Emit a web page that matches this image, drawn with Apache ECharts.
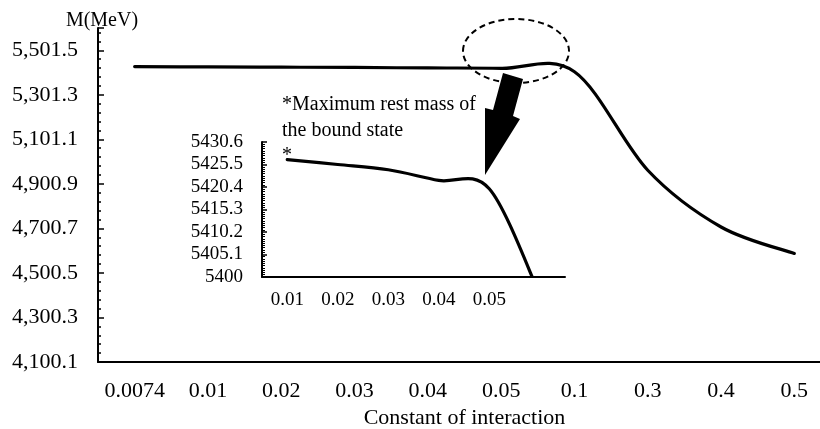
<!DOCTYPE html>
<html><head><meta charset="utf-8">
<script src="https://cdn.jsdelivr.net/npm/echarts@6/dist/echarts.min.js"></script>
<style>html,body{margin:0;padding:0;background:#fff}#c{width:820px;height:429px}</style>
</head><body><div id="c"></div>
<script>
// ---- data ----
const categories = ['0.0074', '0.01', '0.02', '0.03', '0.04', '0.05', '0.1', '0.3', '0.4', '0.5'];
const massValues = [5428, 5426.6, 5425.5, 5424.3, 5421.9, 5420.0, 5405, 4962, 4707, 4588];
const yTicks = [4100.1, 4300.3, 4500.5, 4700.7, 4900.9, 5101.1, 5301.3, 5501.5];
const yMax = 5601.6;
const insetCategories = ['0.01', '0.02', '0.03', '0.04', '0.05', ''];
const insetValues = [5426.6, 5425.5, 5424.3, 5421.9, 5420.0, 5396];
const insetTicks = [5400, 5405.1, 5410.2, 5415.3, 5420.4, 5425.5, 5430.6];
const xAxisName = 'Constant of interaction';
const yAxisName = 'M(MeV)';
const noteLines = ['*Maximum rest mass of', 'the bound state', '*'];

// ---- chart ----
const FONT = '"Liberation Serif", "Times New Roman", serif';
const BLACK = '#000';
const yInterval = +(yTicks[1] - yTicks[0]).toFixed(4);
const insetInterval = +(insetTicks[1] - insetTicks[0]).toFixed(4);
const matchTick = (list, v) => list.find(t => Math.abs(t - v) < 1e-6);

// Spreadsheet-style (Catmull-Rom) smoothing through the points mapped by the axes
function smoothPath(values, api) {
  const pts = values.map((v, i) => api.coord([i, v]));
  let d = 'M' + pts[0][0] + ',' + pts[0][1];
  for (let i = 0; i < pts.length - 1; i++) {
    const p0 = pts[Math.max(i - 1, 0)], p1 = pts[i], p2 = pts[i + 1], p3 = pts[Math.min(i + 2, pts.length - 1)];
    const c1 = [p1[0] + (p2[0] - p0[0]) / 6, p1[1] + (p2[1] - p0[1]) / 6];
    const c2 = [p2[0] - (p3[0] - p1[0]) / 6, p2[1] - (p3[1] - p1[1]) / 6];
    d += ' C' + c1[0] + ',' + c1[1] + ' ' + c2[0] + ',' + c2[1] + ' ' + p2[0] + ',' + p2[1];
  }
  return d;
}
function smoothSeries(values, xIdx, yIdx) {
  return {
    type: 'custom', xAxisIndex: xIdx, yAxisIndex: yIdx, clip: true,
    data: values.map((v, i) => [i, v]), encode: {x: 0, y: 1},
    renderItem: (params, api) => params.dataIndex !== 0 ? null : {
      type: 'path',
      shape: {pathData: smoothPath(values, api)},
      style: {fill: 'none', stroke: BLACK, lineWidth: 3.2, lineJoin: 'round', lineCap: 'round'}
    }
  };
}

const chart = echarts.init(document.getElementById('c'), null, {renderer: 'canvas'});
chart.setOption({
  backgroundColor: '#fff',
  animation: false,
  grid: [
    {left: 98, top: 28, width: 733, height: 334, containLabel: false, outerBoundsMode: 'none'},
    {left: 262, top: 142, width: 303, height: 135, containLabel: false, outerBoundsMode: 'none'}
  ],
  xAxis: [
    {
      gridIndex: 0, type: 'category', data: categories, boundaryGap: true,
      axisLine: {lineStyle: {color: BLACK, width: 2}},
      axisTick: {inside: true, length: 5, lineStyle: {color: BLACK, width: 1.5}},
      axisLabel: {interval: 0, margin: 18, fontSize: 22, color: BLACK, fontFamily: FONT},
      name: xAxisName, nameLocation: 'middle', nameGap: 35,
      nameTextStyle: {fontSize: 22, color: BLACK, fontFamily: FONT},
      splitLine: {show: false}
    },
    {
      gridIndex: 0, type: 'category', data: categories, position: 'bottom',
      axisLine: {show: false}, axisLabel: {show: false}, splitLine: {show: false},
      axisTick: {inside: true, alignWithLabel: true, length: 5, lineStyle: {color: BLACK, width: 1.5}}
    },
    {
      gridIndex: 1, type: 'category', data: insetCategories, boundaryGap: true,
      axisLine: {lineStyle: {color: BLACK, width: 2}},
      axisTick: {inside: true, length: 5, lineStyle: {color: BLACK, width: 1.5}},
      axisLabel: {interval: 0, margin: 14, fontSize: 19, color: BLACK, fontFamily: FONT},
      splitLine: {show: false}
    },
    {
      gridIndex: 1, type: 'category', data: insetCategories, position: 'bottom',
      axisLine: {show: false}, axisLabel: {show: false}, splitLine: {show: false},
      axisTick: {inside: true, alignWithLabel: true, length: 5, lineStyle: {color: BLACK, width: 1.5}}
    }
  ],
  yAxis: [
    {
      gridIndex: 0, type: 'value', min: yTicks[0], max: yMax, interval: yInterval,
      axisLine: {show: true, lineStyle: {color: BLACK, width: 2}},
      axisTick: {show: true, inside: true, length: 6, lineStyle: {color: BLACK, width: 1.5}},
      axisLabel: {
        margin: 20, fontSize: 22, color: BLACK, fontFamily: FONT,
        formatter: v => {
          const t = matchTick(yTicks, v);
          return t === undefined ? '' : t.toLocaleString('en-US', {minimumFractionDigits: 1, maximumFractionDigits: 1});
        }
      },
      splitLine: {show: false},
      name: yAxisName, nameLocation: 'end', nameGap: -3,
      nameTextStyle: {fontSize: 20, color: BLACK, fontFamily: FONT, padding: [0, 0, 0, 8]}
    },
    {
      gridIndex: 0, type: 'value', position: 'left', min: yTicks[0], max: yMax, interval: +(yInterval / 5).toFixed(4),
      axisLine: {show: false}, axisLabel: {show: false}, splitLine: {show: false},
      axisTick: {show: true, inside: true, length: 3, lineStyle: {color: BLACK, width: 1.5}}
    },
    {
      gridIndex: 1, type: 'value', min: insetTicks[0], max: insetTicks[insetTicks.length - 1], interval: insetInterval,
      axisLine: {show: true, lineStyle: {color: BLACK, width: 2}},
      axisTick: {show: true, inside: true, length: 5, lineStyle: {color: BLACK, width: 1.5}},
      minorTick: {show: true, splitNumber: 10, length: 3, lineStyle: {color: BLACK, width: 1}},
      axisLabel: {
        margin: 19, fontSize: 19, color: BLACK, fontFamily: FONT,
        formatter: v => {
          const t = matchTick(insetTicks, v);
          return t === undefined ? '' : String(t);
        }
      },
      splitLine: {show: false}
    }
  ],
  series: [
    smoothSeries(massValues, 0, 0),
    smoothSeries(insetValues, 2, 2)
  ],
  graphic: [
    {
      type: 'ellipse', shape: {cx: 516, cy: 51, rx: 53, ry: 32},
      style: {fill: 'none', stroke: BLACK, lineWidth: 2, lineDash: [6, 4]}, z: 10
    },
    {
      type: 'polygon',
      shape: {points: [[503, 73], [523, 79], [513, 116], [520, 119], [485, 175], [485, 108], [493, 110]]},
      style: {fill: BLACK, stroke: 'none'}, z: 10
    },
    {
      type: 'text', x: 282, y: 92, z: 10,
      style: {text: noteLines.join('\n'), font: '20px ' + FONT, lineHeight: 25.5, fill: BLACK}
    }
  ]
});
</script>
</body></html>
